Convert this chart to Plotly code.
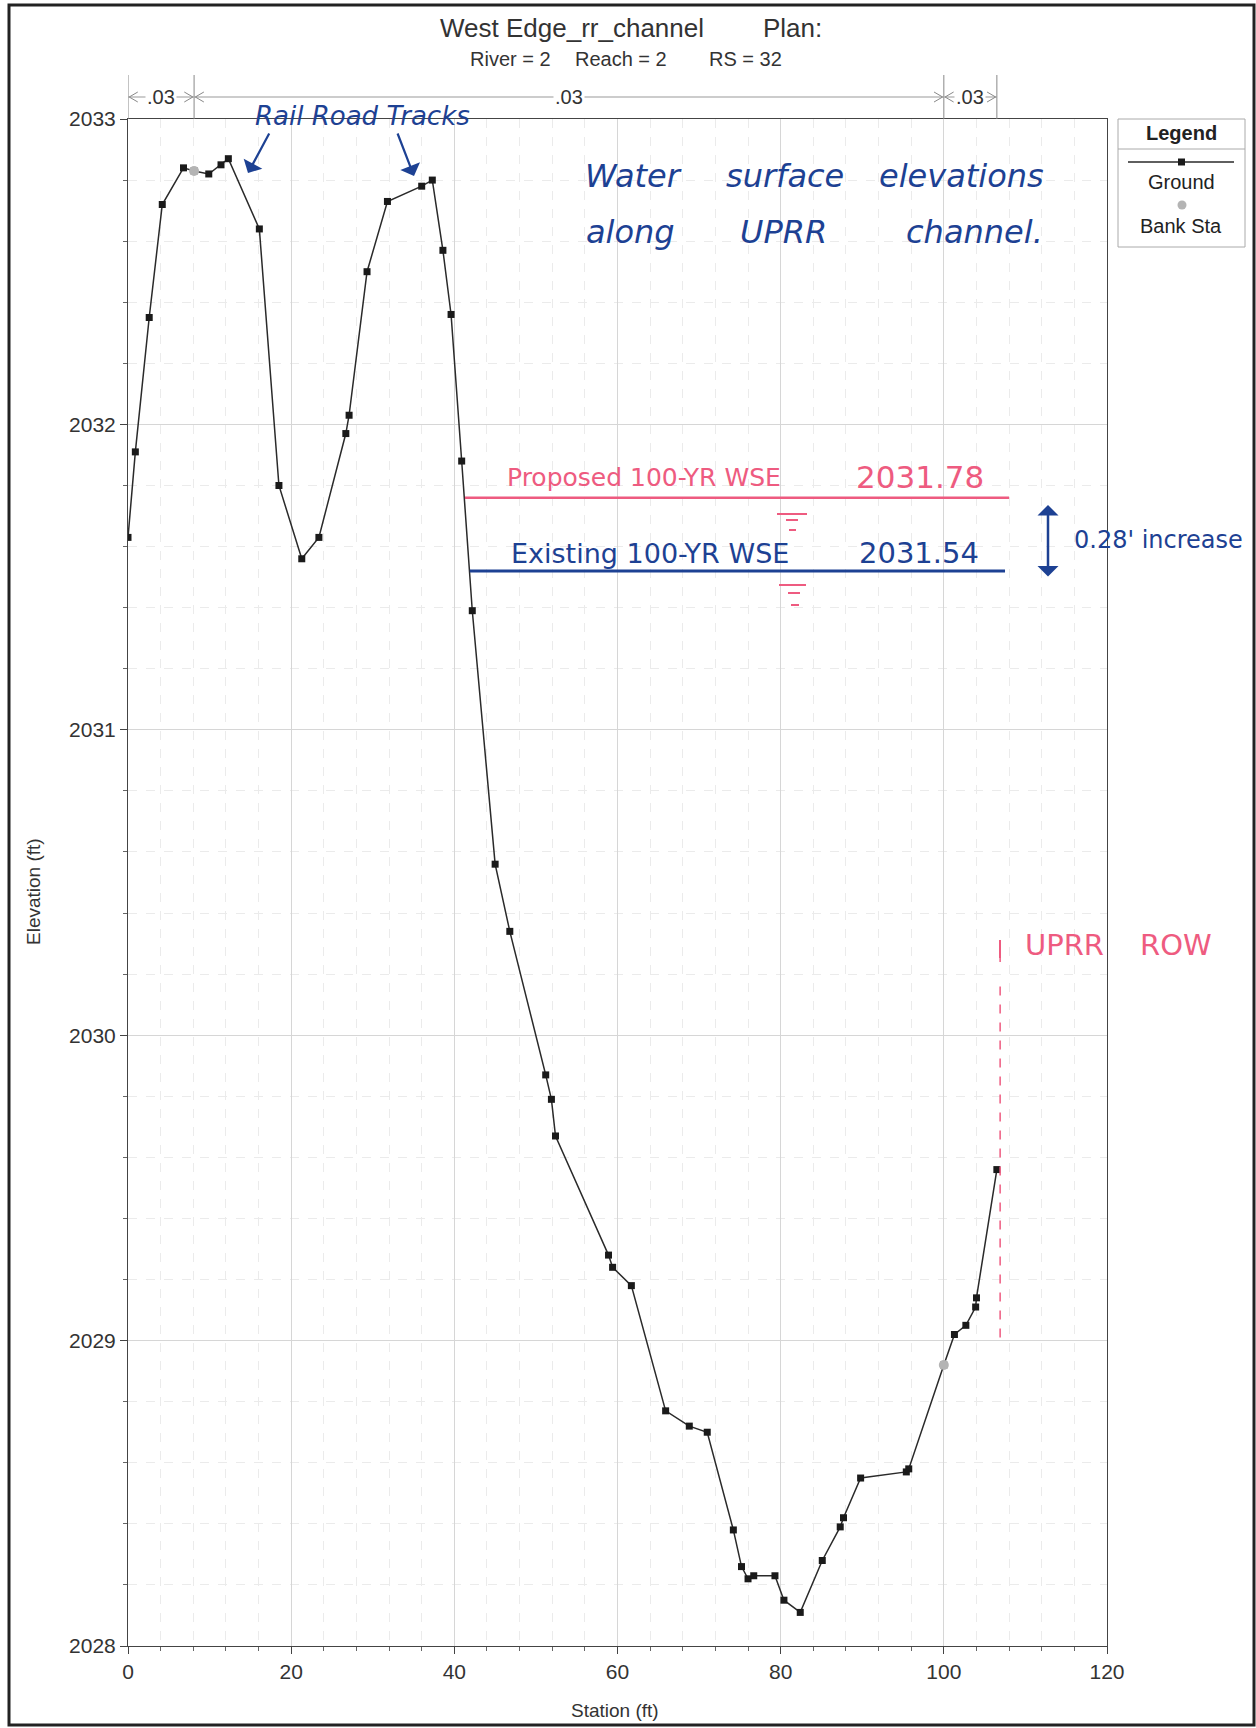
import plotly.graph_objects as go

# ---------------- data ----------------
ground_station = [0.0, 0.9, 2.6, 4.2, 6.8, 8.1, 9.9, 11.4, 12.3, 16.1, 18.5, 21.3, 23.4,
                  26.7, 27.1, 29.3, 31.8, 36.0, 37.3, 38.6, 39.6, 40.9, 42.2, 45.0, 46.8,
                  51.2, 51.9, 52.4, 58.9, 59.4, 61.7, 65.9, 68.8, 71.0, 74.2, 75.2, 76.0,
                  76.7, 79.3, 80.4, 82.4, 85.1, 87.3, 87.7, 89.8, 95.4, 95.7, 100.0, 101.3,
                  102.7, 103.9, 104.0, 106.5]
ground_elev = [2031.63, 2031.91, 2032.35, 2032.72, 2032.84, 2032.83, 2032.82, 2032.85, 2032.87,
               2032.64, 2031.80, 2031.56, 2031.63, 2031.97, 2032.03, 2032.50, 2032.73, 2032.78,
               2032.80, 2032.57, 2032.36, 2031.88, 2031.39, 2030.56, 2030.34, 2029.87, 2029.79,
               2029.67, 2029.28, 2029.24, 2029.18, 2028.77, 2028.72, 2028.70, 2028.38, 2028.26,
               2028.22, 2028.23, 2028.23, 2028.15, 2028.11, 2028.28, 2028.39, 2028.42, 2028.55,
               2028.57, 2028.58, 2028.92, 2029.02, 2029.05, 2029.11, 2029.14, 2029.56]
bank_station = [8.1, 100.0]
bank_elev = [2032.83, 2028.92]

n_breaks = [0.0, 8.1, 100.0, 106.5]
n_values = [".03", ".03", ".03"]

proposed_wse_station = [41.3, 108.0]
proposed_wse_elev = [2031.76, 2031.76]
existing_wse_station = [41.9, 107.5]
existing_wse_elev = [2031.52, 2031.52]
row_station = [106.9, 106.9, None, 106.9, 106.9]
row_elev = [2029.01, 2030.16, None, 2030.24, 2030.31]

x_ticks = [0, 20, 40, 60, 80, 100, 120]
y_ticks = [2028, 2029, 2030, 2031, 2032, 2033]

# ---------------- layout helpers ----------------
W, H = 1256, 1728
L, R, T, B = 128, 1107, 119, 1646


def px(x):
    return (x - L) / (R - L)


def py(y):
    return (B - y) / (B - T)


BLUE = "#1d4193"
PINK = "#ee5b80"
TXT = "#333333"
FONT = "Liberation Sans"
HAND = "DejaVu Sans"

fig = go.Figure()
fig.add_trace(go.Scatter(x=ground_station, y=ground_elev, mode="lines+markers",
                         line=dict(color="#2a2a2a", width=1.5),
                         marker=dict(symbol="square", size=7, color="#1a1a1a"),
                         name="Ground", showlegend=False))
fig.add_trace(go.Scatter(x=bank_station, y=bank_elev, mode="markers",
                         marker=dict(symbol="circle", size=10, color="#b4b4b4"),
                         name="Bank Sta", showlegend=False))
fig.add_trace(go.Scatter(x=proposed_wse_station, y=proposed_wse_elev, mode="lines",
                         line=dict(color=PINK, width=2.5), showlegend=False))
fig.add_trace(go.Scatter(x=existing_wse_station, y=existing_wse_elev, mode="lines",
                         line=dict(color=BLUE, width=3), showlegend=False))
fig.add_trace(go.Scatter(x=row_station, y=row_elev, mode="lines", connectgaps=False,
                         line=dict(color=PINK, width=1.5, dash="dash"), showlegend=False))

shapes = []
annotations = []


def label(text, cx, cy, size, color=TXT, family=FONT, anchor="center", **kw):
    d = dict(x=px(cx), y=py(cy), xref="paper", yref="paper", text=text,
             xanchor=anchor, yanchor="middle", showarrow=False,
             font=dict(family=family, size=size, color=color, style=kw.pop("style", "normal")))
    d.update(kw)
    annotations.append(d)


# Manning's n bar above the plot
bar_y = py(97)
top_y = py(75)
dx = 1.2
dy = 5 / (B - T)
for xb in n_breaks:
    shapes.append(dict(type="line", xref="x", yref="paper", x0=xb, x1=xb, y0=1.0, y1=top_y,
                       line=dict(color="#888888", width=1)))
for i, val in enumerate(n_values):
    a, b = n_breaks[i], n_breaks[i + 1]
    shapes.append(dict(type="line", xref="x", yref="paper", x0=a, x1=b, y0=bar_y, y1=bar_y,
                       line=dict(color="#999999", width=1)))
    shapes.append(dict(type="path", xref="x", yref="paper",
                       path=f"M {a+dx},{bar_y+dy} L {a+0.15},{bar_y} L {a+dx},{bar_y-dy}",
                       line=dict(color="#888888", width=1)))
    shapes.append(dict(type="path", xref="x", yref="paper",
                       path=f"M {b-dx},{bar_y+dy} L {b-0.15},{bar_y} L {b-dx},{bar_y-dy}",
                       line=dict(color="#888888", width=1)))
    annotations.append(dict(x=(a + b) / 2, y=bar_y, xref="x", yref="paper", text=val,
                            xanchor="center", yanchor="middle",
                            showarrow=False, bgcolor="white", borderpad=1,
                            font=dict(family=FONT, size=20, color=TXT)))

# Title
label("West Edge_rr_channel", 438, 28, 26, anchor="left")
label("Plan:", 761, 28, 26, anchor="left")
for txt, x0 in [("River = 2", 468), ("Reach = 2", 573), ("RS = 32", 707)]:
    label(txt, x0, 59, 20, anchor="left")

# Axis titles
label("Station (ft)", 615, 1711, 19)
label("Elevation (ft)", 33, 892, 19, textangle=-90)

# Legend box
shapes.append(dict(type="rect", xref="paper", yref="paper", x0=px(1118), x1=px(1245),
                   y0=py(119), y1=py(247), line=dict(color="#aaaaaa", width=1),
                   fillcolor="white"))
shapes.append(dict(type="line", xref="paper", yref="paper", x0=px(1118), x1=px(1245),
                   y0=py(149), y1=py(149), line=dict(color="#aaaaaa", width=1)))
shapes.append(dict(type="line", xref="paper", yref="paper", x0=px(1128), x1=px(1234),
                   y0=py(162), y1=py(162), line=dict(color="#2a2a2a", width=1.5)))
shapes.append(dict(type="rect", xref="paper", yref="paper", x0=px(1178), x1=px(1185),
                   y0=py(158.5), y1=py(165.5), line=dict(width=0), fillcolor="#1a1a1a"))
shapes.append(dict(type="circle", xref="paper", yref="paper", x0=px(1177.5), x1=px(1186.5),
                   y0=py(200.5), y1=py(209.5), line=dict(width=0), fillcolor="#b4b4b4"))
label("<b>Legend</b>", 1181, 133, 20, color="#222")
label("Ground", 1181, 182, 20, color="#222")
label("Bank Sta", 1181, 226, 20, color="#222")

# Page frame (scan border)
shapes.append(dict(type="rect", xref="paper", yref="paper", x0=px(9), x1=px(1254),
                   y0=py(5), y1=py(1725), line=dict(color="#222222", width=3)))

# Handwritten notes
label("Rail Road Tracks", 253, 116, 26, color=BLUE, family=HAND, anchor="left", style="italic")
for w, c in [("Water", 633), ("surface", 785), ("elevations", 961)]:
    label(w, c, 176, 32, color=BLUE, family=HAND, style="italic")
for w, c in [("along", 630), ("UPRR", 783), ("channel.", 974)]:
    label(w, c, 232, 32, color=BLUE, family=HAND, style="italic")
label("Proposed 100-YR WSE", 505, 477, 25, color=PINK, family=HAND, anchor="left")
label("2031.78", 854, 477, 31, color=PINK, family=HAND, anchor="left")
label("Existing 100-YR WSE", 509, 553, 27, color=BLUE, family=HAND, anchor="left")
label("2031.54", 857, 553, 29, color=BLUE, family=HAND, anchor="left")
label("0.28' increase", 1072, 540, 24, color=BLUE, family=HAND, anchor="left")
label("UPRR", 1064, 945, 29, color=PINK, family=HAND)
label("ROW", 1176, 945, 29, color=PINK, family=HAND)

# arrows
annotations.append(dict(x=px(248), y=py(173), xref="paper", yref="paper", ax=22, ay=-41,
                        text="", showarrow=True, arrowhead=1, arrowsize=1.6, arrowwidth=2.2,
                        arrowcolor=BLUE))
annotations.append(dict(x=px(414), y=py(176), xref="paper", yref="paper", ax=-17, ay=-44,
                        text="", showarrow=True, arrowhead=1, arrowsize=1.6, arrowwidth=2.2,
                        arrowcolor=BLUE))
annotations.append(dict(x=px(1048), y=py(505), xref="paper", yref="paper", ax=0, ay=73,
                        text="", showarrow=True, arrowhead=1, arrowside="end+start",
                        arrowsize=1.4, arrowwidth=2.5, arrowcolor=BLUE))

# small pink tick marks under WSE lines + ROW tick
for x0, x1, y in [(777, 807, 514), (786, 798, 520), (789, 796, 530),
                  (779, 806, 585), (788, 800, 593), (791, 799, 605)]:
    shapes.append(dict(type="line", xref="paper", yref="paper", x0=px(x0), x1=px(x1),
                       y0=py(y), y1=py(y), line=dict(color=PINK, width=2)))
shapes.append(dict(type="line", xref="paper", yref="paper", x0=px(1000), x1=px(1000),
                   y0=py(940), y1=py(958), line=dict(color=PINK, width=2)))

axis_common = dict(showline=True, linecolor="#444444", linewidth=1, mirror=True,
                   ticks="outside", ticklen=7, tickcolor="#444444", zeroline=False,
                   showgrid=True, gridcolor="#d6d6d6", gridwidth=1,
                   tickfont=dict(family=FONT, size=21, color=TXT))

fig.update_layout(
    width=W, height=H, autosize=False,
    margin=dict(l=L, r=W - R, t=T, b=H - B, pad=0),
    paper_bgcolor="white", plot_bgcolor="white",
    showlegend=False,
    xaxis=dict(range=[0, 120], tickvals=x_ticks,
               minor=dict(dtick=4, tick0=0, showgrid=True, gridcolor="#ebebeb", griddash="dash",
                          ticks="outside", ticklen=4, tickcolor="#666666"),
               **axis_common),
    yaxis=dict(range=[2028, 2033], tickvals=y_ticks,
               minor=dict(dtick=0.2, tick0=2028, showgrid=True, gridcolor="#ebebeb",
                          griddash="dash", ticks="outside", ticklen=4, tickcolor="#666666"),
               **axis_common),
    shapes=shapes,
    annotations=annotations,
)

fig.write_html("out.html", config={"displayModeBar": False},
               post_script="document.body.style.margin='0';document.body.style.overflow='hidden';")
